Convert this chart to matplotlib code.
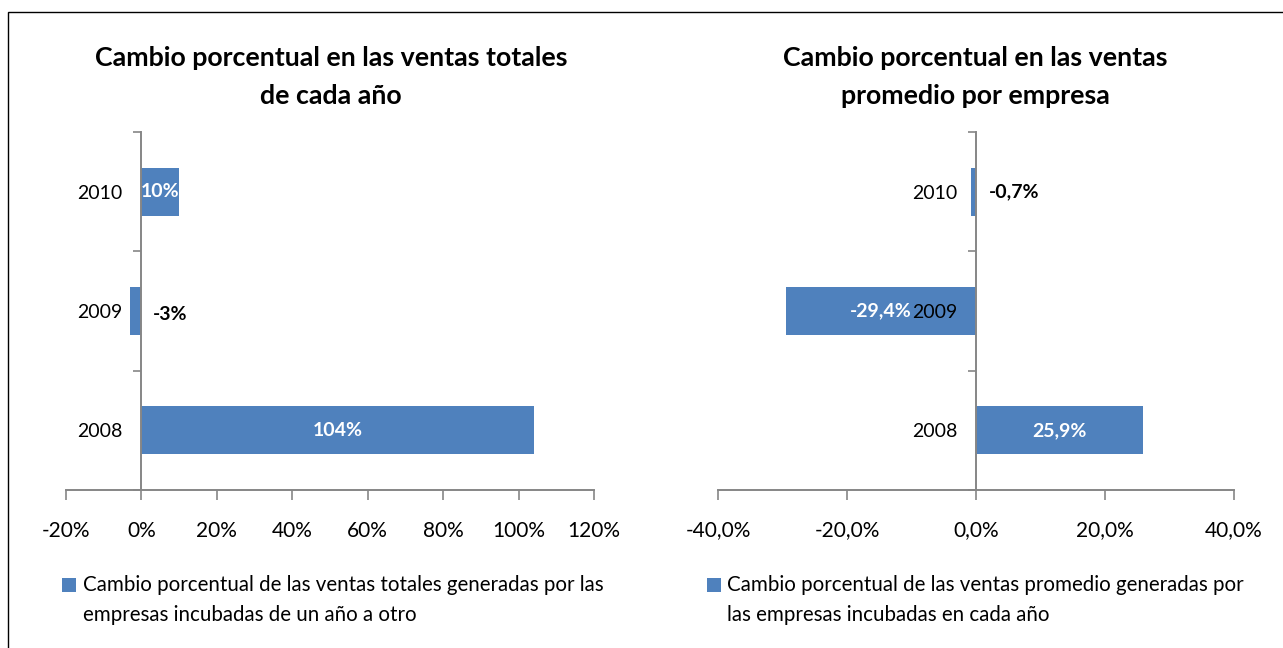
import matplotlib
matplotlib.use("Agg")
import matplotlib.pyplot as plt
from matplotlib.patches import Rectangle
from matplotlib.ticker import FixedLocator, FuncFormatter

plt.rcParams['font.family'] = ['Lato', 'DejaVu Sans']

# Data
years = ["2008", "2009", "2010"]
total_change = [104, -3, 10]          # % change in total sales
avg_change = [25.9, -29.4, -0.7]      # % change in average sales per company

total_title = "Cambio porcentual en las ventas totales\nde cada año"
avg_title = "Cambio porcentual en las ventas\npromedio por empresa"
total_legend = ("Cambio porcentual de las ventas totales generadas por las\n"
                "empresas incubadas de un año a otro")
avg_legend = ("Cambio porcentual de las ventas promedio generadas por\n"
              "las empresas incubadas en cada año")

total_ticks = [-20, 0, 20, 40, 60, 80, 100, 120]
avg_ticks = [-40, -20, 0, 20, 40]

BAR = "#4F81BD"
AXIS = "#868686"
W, H = 1283, 648

fig = plt.figure(figsize=(W / 100, H / 100), dpi=100)

# outer frame
fig.patches.append(Rectangle((8 / W, -0.1), 1.2, 1.1 - 12 / H, transform=fig.transFigure,
                             fill=False, edgecolor="black", linewidth=1.0))


def px_axes(x0, x1, y0, y1):
    return fig.add_axes([x0 / W, 1 - y1 / H, (x1 - x0) / W, (y1 - y0) / H])


def style(ax, ticks, fmt, xlim):
    ax.set_xlim(*xlim)
    ax.set_ylim(-0.5, 2.5)
    for s in ("top", "right"):
        ax.spines[s].set_visible(False)
    ax.spines["left"].set_position(("data", 0))
    for s in ("left", "bottom"):
        ax.spines[s].set_color(AXIS)
        ax.spines[s].set_linewidth(1.4)
    ax.set_xticks(ticks)
    ax.xaxis.set_major_formatter(FuncFormatter(fmt))
    ax.tick_params(axis="x", colors=AXIS, length=7, width=1.2, direction="out",
                   labelcolor="black", labelsize=15, pad=15)
    ax.set_yticks(range(len(years)))
    ax.set_yticklabels(years)
    ax.yaxis.set_minor_locator(FixedLocator([-0.5, 0.5, 1.5, 2.5]))
    ax.tick_params(axis="y", which="major", length=0, labelsize=14, pad=13.5)
    ax.tick_params(axis="y", which="minor", length=6, width=1.2, color=AXIS, direction="out")


def pct_int(v, _):
    return f"{v:.0f}%"


def pct_dec(v, _):
    return f"{v:.1f}%".replace(".", ",")


# Left chart: total sales
ax1 = px_axes(66, 594, 132, 490)
ax1.barh(range(len(years)), total_change, height=0.4, color=BAR, zorder=1)
style(ax1, total_ticks, pct_int, (-20, 120))
for i, v in enumerate(total_change):
    lab = f"{v:.0f}%"
    if v > 0:
        ax1.text(v / 2, i, lab, ha="center", va="center", color="white",
                 fontsize=14, fontweight="bold")
    else:
        ax1.text(3, i - 0.03, lab, ha="left", va="center", color="black",
                 fontsize=14, fontweight="bold")

# Right chart: average sales per company
ax2 = px_axes(718, 1234, 132, 490)
ax2.barh(range(len(years)), avg_change, height=0.4, color=BAR, zorder=1)
style(ax2, avg_ticks, pct_dec, (-40, 40))
for i, v in enumerate(avg_change):
    lab = f"{v:.1f}%".replace(".", ",")
    if abs(v) > 5:
        ax2.text(v / 2, i, lab, ha="center", va="center", color="white",
                 fontsize=14, fontweight="bold")
    else:
        ax2.text(2, i, lab, ha="left", va="center", color="black",
                 fontsize=14, fontweight="bold")

# Titles
fig.text(331 / W, 1 - 77 / H, total_title, ha="center", va="center",
         fontsize=19.3, fontweight="bold", linespacing=1.72)
fig.text(975 / W, 1 - 77 / H, avg_title, ha="center", va="center",
         fontsize=19.3, fontweight="bold", linespacing=1.72)

# Legends
for sq_x, tx_x, label in ((62, 83, total_legend), (707, 727, avg_legend)):
    fig.patches.append(Rectangle((sq_x / W, 1 - 592 / H), 14 / W, 14 / H,
                                 transform=fig.transFigure, facecolor=BAR, edgecolor="none"))
    fig.text(tx_x / W, 1 - 600 / H, label, ha="left", va="center",
             fontsize=14.8, linespacing=1.62)

fig.savefig("out.png", dpi=100)
